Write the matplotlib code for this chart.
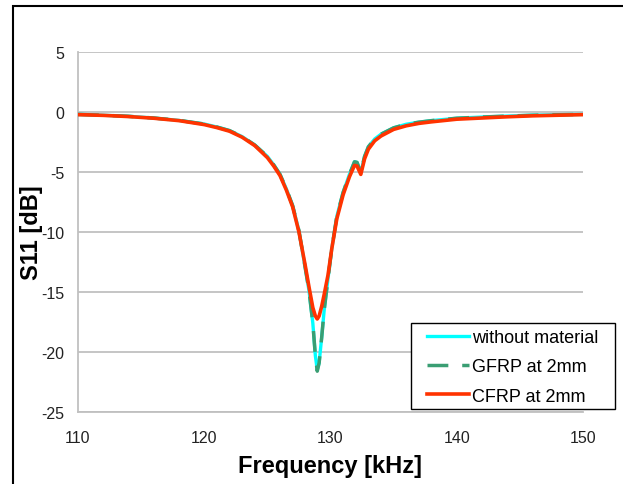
import numpy as np
import matplotlib
matplotlib.use('Agg')
import matplotlib.pyplot as plt
from matplotlib.patches import Rectangle

plt.rcParams['font.family'] = ['Liberation Sans', 'DejaVu Sans']
plt.rcParams['axes.unicode_minus'] = False

# frequency points (kHz)
freq = [110, 112, 114, 116, 118, 120, 121, 122, 123, 124, 125, 125.5, 126, 126.5,
        127, 127.5, 128, 128.3, 128.6, 128.8, 128.95, 129.1, 129.3, 129.5, 129.8,
        130.1, 130.5, 131.0, 131.5, 131.9, 132.1, 132.4, 132.7, 133.0, 133.5, 134,
        135, 136, 137, 138, 140, 142, 144, 146, 148, 150]

# S11 [dB]
s11_none = [-0.2, -0.27, -0.36, -0.5, -0.7, -1.0, -1.25, -1.55, -2.05, -2.75, -3.7, -4.4,
            -5.2, -6.4, -7.8, -9.9, -13.0, -14.9, -17.6, -20.3, -21.5, -20.9, -18.8,
            -16.5, -13.9, -11.4, -8.7, -6.7, -5.2, -4.15, -4.2, -5.05, -3.7, -2.9,
            -2.25, -1.85, -1.32, -1.02, -0.85, -0.72, -0.52, -0.42, -0.34, -0.27, -0.23, -0.2]
s11_gfrp = [-0.2, -0.27, -0.36, -0.5, -0.7, -1.0, -1.25, -1.55, -2.05, -2.75, -3.7, -4.4,
            -5.2, -6.4, -7.8, -9.9, -13.0, -14.9, -17.6, -20.3, -21.6, -20.9, -18.8,
            -16.5, -13.9, -11.4, -8.7, -6.7, -5.2, -4.15, -4.2, -5.05, -3.7, -2.9,
            -2.25, -1.85, -1.32, -1.02, -0.85, -0.72, -0.52, -0.42, -0.34, -0.27, -0.23, -0.2]
s11_cfrp = [-0.22, -0.28, -0.38, -0.52, -0.72, -1.05, -1.3, -1.6, -2.1, -2.8, -3.8, -4.5,
            -5.3, -6.5, -7.9, -10.0, -12.8, -14.6, -16.3, -17.0, -17.25, -17.0, -16.2,
            -15.2, -13.6, -11.4, -8.9, -6.9, -5.4, -4.45, -4.5, -5.2, -3.9, -3.1,
            -2.4, -2.0, -1.45, -1.15, -0.95, -0.82, -0.6, -0.5, -0.4, -0.32, -0.27, -0.22]

W, H = 623, 485
fig = plt.figure(figsize=(W/100, H/100), dpi=100)
ax = fig.add_axes([78/W, 1-413/H, 505/W, 360/H])

# outer frame of the original chart
fig.patches.append(Rectangle((12.5/W, -0.1), 1.2, 1.1 - 7/H, transform=fig.transFigure,
                             fill=False, edgecolor='black', linewidth=1.5))

ax.plot(freq, s11_none, color='#00ffff', lw=2.4, label='without material', zorder=3)
ax.plot(freq, s11_gfrp, color='#3a9e73', lw=2.5, ls=(0, (6, 4)), label='GFRP at 2mm', zorder=4)
ax.plot(freq, s11_cfrp, color='#ff3300', lw=2.6, label='CFRP at 2mm', zorder=5)

ax.set_xlim(110, 150)
ax.set_ylim(-25, 5)
ax.set_xticks([110, 120, 130, 140, 150])
ax.set_yticks([5, 0, -5, -10, -15, -20, -25])
ax.grid(axis='y', color='#c0c0c0', lw=1.3)
ax.set_axisbelow(True)
for s in ['top', 'right']:
    ax.spines[s].set_visible(False)
for s in ['left', 'bottom']:
    ax.spines[s].set_color('#c0c0c0')
    ax.spines[s].set_linewidth(1.3)
ax.tick_params(axis='both', length=0, labelsize=11.5, labelcolor='#222222')
ax.tick_params(axis='y', pad=10)
ax.tick_params(axis='x', pad=13)

ax.set_xlabel('Frequency [kHz]', fontsize=17, fontweight='bold')
ax.set_ylabel('S11 [dB]', fontsize=17, fontweight='bold')
ax.xaxis.set_label_coords(0.5, -0.118)
ax.yaxis.set_label_coords(-0.069, 0.5)

# legend box drawn separately so its padding matches the original
ax.add_patch(Rectangle((411/W, 1-410/H), 204/W, 86/H, transform=fig.transFigure,
                       facecolor='white', edgecolor='black', linewidth=1.0,
                       zorder=6, clip_on=False))
leg = ax.legend(loc='upper left', bbox_to_anchor=(427/W, 1-330/H),
                bbox_transform=fig.transFigure, borderaxespad=0, borderpad=0,
                frameon=False, fontsize=13, handlelength=2.3,
                handletextpad=0.2, labelspacing=0.68)
leg.set_zorder(7)

fig.savefig('out.png', dpi=100)
